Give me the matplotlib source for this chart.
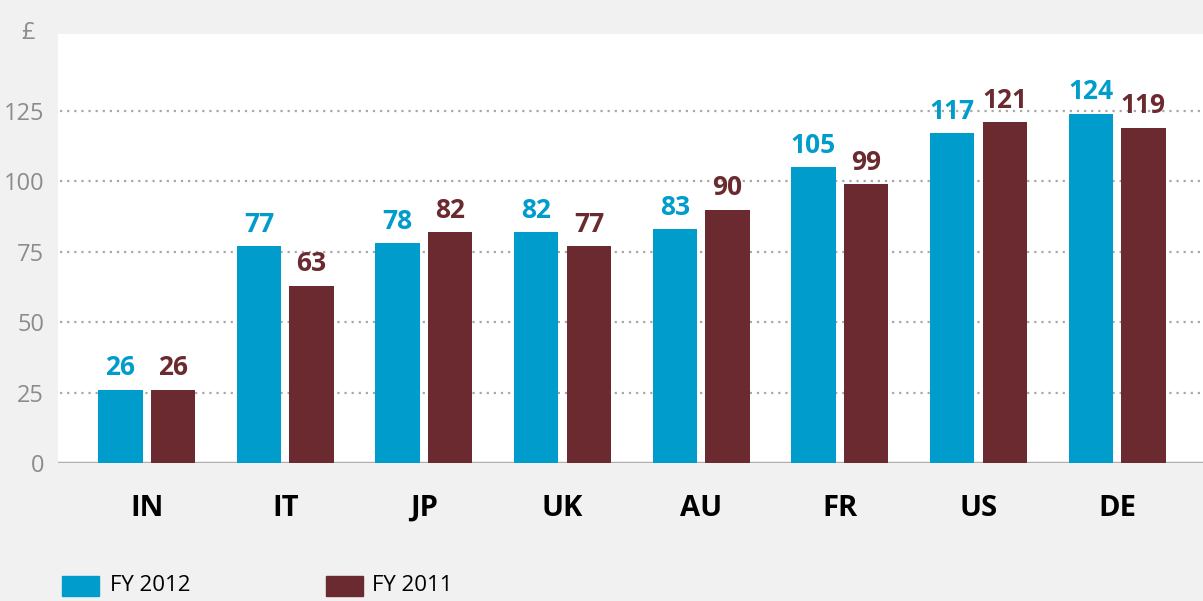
import matplotlib.pyplot as plt
from matplotlib.patches import Rectangle
import numpy as np

countries = ['IN', 'IT', 'JP', 'UK', 'AU', 'FR', 'US', 'DE']
fy2012 = [26, 77, 78, 82, 83, 105, 117, 124]
fy2011 = [26, 63, 82, 77, 90, 99, 121, 119]
yticks = [0, 25, 50, 75, 100, 125]

blue = '#009ccb'
maroon = '#6b2a30'
grey = '#8c8c8c'

plt.rcParams['font.family'] = ['Open Sans', 'DejaVu Sans']

fig = plt.figure(figsize=(12.03, 6.01), dpi=100)
fig.patch.set_facecolor('#f1f1f1')
ax = fig.add_axes([0.0482, 0.2296, 0.9518, 0.7138])
ax.set_facecolor('white')

x = np.arange(len(countries))
w = 0.32
ax.bar(x - 0.19, fy2012, width=w, color=blue, zorder=3)
ax.bar(x + 0.19, fy2011, width=w, color=maroon, zorder=3)

# value labels
for xi, v in zip(x, fy2012):
    ax.annotate(str(v), (xi - 0.19, v), xytext=(0, 6), textcoords='offset points',
                ha='center', va='bottom', fontsize=19, fontweight='bold', color=blue)
for xi, v in zip(x, fy2011):
    ax.annotate(str(v), (xi + 0.19, v), xytext=(0, 6), textcoords='offset points',
                ha='center', va='bottom', fontsize=19, fontweight='bold', color=maroon)

ax.set_xlim(-0.64, 7.62)
ax.set_ylim(0, 152.3)
ax.set_yticks(yticks)
ax.set_xticks(x)
ax.set_xticklabels(countries, fontsize=21, fontweight='bold', color='black')
ax.tick_params(axis='x', length=0, pad=22)
ax.tick_params(axis='y', length=0, pad=10, labelsize=17, labelcolor=grey)
for t in yticks[1:]:
    ax.axhline(t, xmin=0.002, color='#a8a8a8', lw=1.6, linestyle=(0, (1, 2.2)), zorder=1)
ax.axhline(0, color='#b0b0b0', lw=2.5, zorder=2)
for s in ax.spines.values():
    s.set_visible(False)

fig.text(0.018, 0.945, '£', fontsize=17, color=grey, ha='left', va='center')

# legend
fig.add_artist(Rectangle((0.0515, 0.0083), 0.0308, 0.0333, transform=fig.transFigure,
                         color=blue))
fig.text(0.0914, 0.025, 'FY 2012', fontsize=16, color='black', va='center')
fig.add_artist(Rectangle((0.271, 0.0083), 0.0308, 0.0333, transform=fig.transFigure,
                         color=maroon))
fig.text(0.309, 0.025, 'FY 2011', fontsize=16, color='black', va='center')

fig.savefig('out.png', dpi=100, facecolor=fig.get_facecolor())
